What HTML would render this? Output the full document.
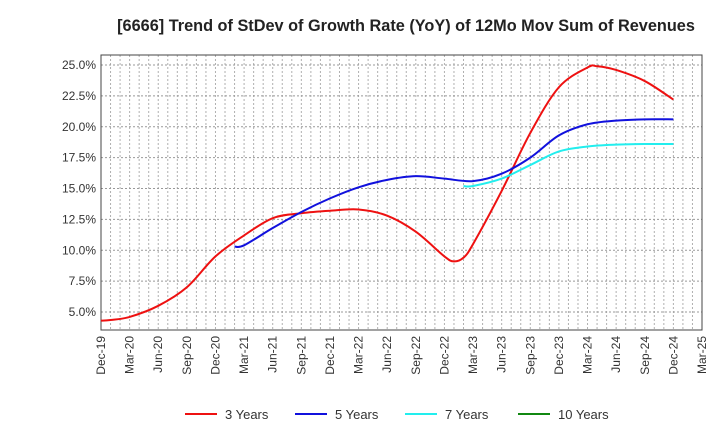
<!DOCTYPE html>
<html><head><meta charset="utf-8"><style>
body{margin:0;background:#fff;font-family:"Liberation Sans",sans-serif}
</style></head><body>
<svg id="c" width="720" height="440" xmlns="http://www.w3.org/2000/svg">
<text x="406" y="31" text-anchor="middle" font-size="16.3" font-weight="bold" fill="#222">[6666]  Trend of StDev of Growth Rate (YoY) of 12Mo Mov Sum of Revenues</text>
<g id="grid"></g>
<g id="axes"></g>
<g id="series"></g>
<g id="legend"></g>
</svg>
<script>
const xLabels=["Dec-19","Mar-20","Jun-20","Sep-20","Dec-20","Mar-21","Jun-21","Sep-21","Dec-21","Mar-22","Jun-22","Sep-22","Dec-22","Mar-23","Jun-23","Sep-23","Dec-23","Mar-24","Jun-24","Sep-24","Dec-24","Mar-25"];
const yTicks=[5,7.5,10,12.5,15,17.5,20,22.5,25];
// month index from Dec-19
const m3=[0,1,3,6,9,12,15,18,21,24,27,30,33,36,37,38,39,42,45,48,51,52,54,57,60];
const v3=[4.3,4.35,4.6,5.5,7.0,9.5,11.2,12.6,13.0,13.2,13.3,12.8,11.5,9.5,9.1,9.4,10.5,14.8,19.5,23.2,24.8,24.9,24.6,23.7,22.2];
const m5=[14,15,18,21,24,27,30,33,36,39,42,45,48,51,54,57,60];
const v5=[10.3,10.4,11.8,13.1,14.2,15.1,15.7,16.0,15.8,15.6,16.2,17.5,19.3,20.2,20.5,20.6,20.6];
const m7=[38,39,42,45,48,51,54,57,60];
const v7=[15.2,15.2,15.8,16.9,18.0,18.4,18.55,18.6,18.6];
const m10=[];const v10=[];
const L=101,R=702,T=55,B=330;
const X=m=>L+m*(R-L)/63;
const Y=v=>65+(25-v)*(312-65)/20;
const NS="http://www.w3.org/2000/svg";
function mk(p,t,a){const e=document.createElementNS(NS,t);for(const k in a)e.setAttribute(k,a[k]);p.appendChild(e);return e;}
const grid=document.getElementById('grid'),axes=document.getElementById('axes'),ser=document.getElementById('series'),leg=document.getElementById('legend');
for(let m=1;m<63;m++){const l=mk(grid,'line',{x1:X(m),x2:X(m),y1:T,y2:B,stroke:'#b0b0b0','stroke-dasharray':'2,2','stroke-width':1});
}
yTicks.forEach(v=>{const l=mk(grid,'line',{x1:L,x2:R,y1:Y(v),y2:Y(v),stroke:'#999','stroke-dasharray':'2,2'});

const t=mk(axes,'text',{x:L-5,y:Y(v)+4,'text-anchor':'end','font-size':12,fill:'#333'});t.textContent=v.toFixed(1)+'%';
});
const fr=mk(axes,'rect',{x:L,y:T,width:R-L,height:B-T,fill:'none',stroke:'#444'});

xLabels.forEach((s,i)=>{const x=X(i*3);const t=mk(axes,'text',{transform:`translate(${x+4},${B+6}) rotate(-90)`,'text-anchor':'end','font-size':12,fill:'#333'});t.textContent=s;
});
function path(ms,vs){if(!ms.length)return '';const p=ms.map((m,i)=>[X(m),Y(vs[i])]);let d=`M${p[0][0]},${p[0][1]}`;
for(let i=0;i<p.length-1;i++){const p0=p[i-1]||p[i],p1=p[i],p2=p[i+1],p3=p[i+2]||p2;
d+=` C${p1[0]+(p2[0]-p0[0])/6},${p1[1]+(p2[1]-p0[1])/6} ${p2[0]-(p3[0]-p1[0])/6},${p2[1]-(p3[1]-p1[1])/6} ${p2[0]},${p2[1]}`;}return d;}
const S=[["3 Years",m3,v3,"#ee1111"],["5 Years",m5,v5,"#1111dd"],["7 Years",m7,v7,"#22eeee"],["10 Years",m10,v10,"#118811"]];
S.forEach((s,i)=>{const p=mk(ser,'path',{d:path(s[1],s[2]),fill:'none',stroke:s[3],'stroke-width':2});

const lx=[185,295,405,518][i];
const ll=mk(leg,'line',{x1:lx,x2:lx+32,y1:414,y2:414,stroke:s[3],'stroke-width':2});

const t=mk(leg,'text',{x:lx+40,y:419,'font-size':13,fill:'#333'});t.textContent=s[0];
});
</script>
</body></html>
